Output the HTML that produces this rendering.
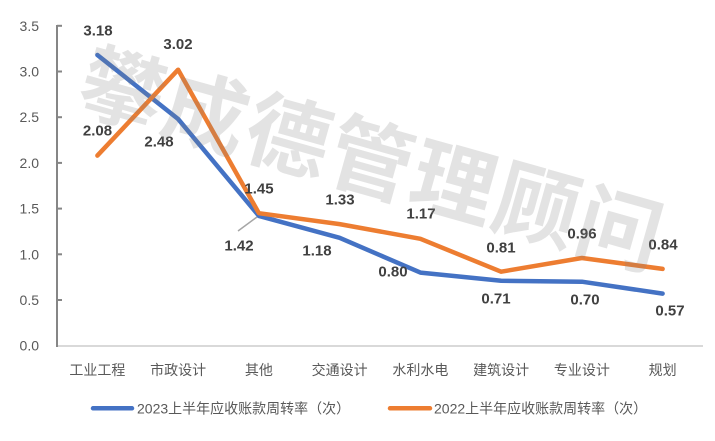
<!DOCTYPE html>
<html>
<head>
<meta charset="utf-8">
<style>
  html,body{margin:0;padding:0;background:#ffffff;}
  body{width:715px;height:441px;overflow:hidden;}
  svg{display:block;}
  .yl{font-family:"Liberation Sans","Noto Sans CJK SC",sans-serif;font-size:14px;fill:#595959;}
  .xl{font-family:"Liberation Sans","Noto Sans CJK SC",sans-serif;font-size:14px;fill:#595959;}
  .dl{font-family:"Liberation Sans","Noto Sans CJK SC",sans-serif;font-size:15px;font-weight:bold;fill:#404040;}
  .lg{font-family:"Liberation Sans","Noto Sans CJK SC",sans-serif;font-size:14px;fill:#595959;}
</style>
</head>
<body>
<svg width="715" height="441" viewBox="0 0 715 441" xmlns="http://www.w3.org/2000/svg">
  <rect width="715" height="441" fill="#ffffff"/>

  <!-- axes -->
  <line x1="57" y1="346" x2="703" y2="346" stroke="#d9d9d9" stroke-width="2"/>
  <line x1="57" y1="25" x2="57" y2="347" stroke="#868686" stroke-width="2"/>
  <g stroke="#868686" stroke-width="2">
    <line x1="57" y1="25.8" x2="62" y2="25.8"/>
    <line x1="57" y1="71.5" x2="62" y2="71.5"/>
    <line x1="57" y1="117.2" x2="62" y2="117.2"/>
    <line x1="57" y1="162.9" x2="62" y2="162.9"/>
    <line x1="57" y1="208.6" x2="62" y2="208.6"/>
    <line x1="57" y1="254.3" x2="62" y2="254.3"/>
    <line x1="57" y1="300" x2="62" y2="300"/>
  </g>

  <!-- y labels -->
  <g class="yl" text-anchor="end" dominant-baseline="central">
    <text x="39" y="25.8">3.5</text>
    <text x="39" y="71.5">3.0</text>
    <text x="39" y="117.2">2.5</text>
    <text x="39" y="162.9">2.0</text>
    <text x="39" y="208.6">1.5</text>
    <text x="39" y="254.3">1.0</text>
    <text x="39" y="300">0.5</text>
    <text x="39" y="345.7">0.0</text>
  </g>

  <!-- x labels -->
  <g class="xl" text-anchor="middle" dominant-baseline="central">
    <text x="97.4" y="370">工业工程</text>
    <text x="178.1" y="370">市政设计</text>
    <text x="258.9" y="370">其他</text>
    <text x="339.6" y="370">交通设计</text>
    <text x="420.4" y="370">水利水电</text>
    <text x="501.1" y="370">建筑设计</text>
    <text x="581.9" y="370">专业设计</text>
    <text x="662.6" y="370">规划</text>
  </g>

  <!-- series -->
  <polyline fill="none" stroke="#4472C4" stroke-width="4.5" stroke-linejoin="round" stroke-linecap="round"
    points="97.4,55.0 178.1,119.0 258.9,215.9 339.6,237.8 420.4,272.6 501.1,280.8 581.9,281.7 662.6,293.6"/>
  <polyline fill="none" stroke="#ED7D31" stroke-width="4.5" stroke-linejoin="round" stroke-linecap="round"
    points="97.4,155.6 178.1,69.7 258.9,213.2 339.6,224.1 420.4,238.8 501.1,271.7 581.9,258.0 662.6,268.9"/>

  <!-- leader line -->
  <line x1="238" y1="231" x2="257" y2="217" stroke="#a6a6a6" stroke-width="1.5"/>

  <!-- data labels -->
  <g class="dl" text-anchor="middle" dominant-baseline="central">
    <text x="98" y="31">3.18</text>
    <text x="159" y="142">2.48</text>
    <text x="239" y="246">1.42</text>
    <text x="317" y="251">1.18</text>
    <text x="393" y="272">0.80</text>
    <text x="496" y="299">0.71</text>
    <text x="585" y="300">0.70</text>
    <text x="670" y="311">0.57</text>

    <text x="97.5" y="131">2.08</text>
    <text x="178" y="44.5">3.02</text>
    <text x="259" y="189">1.45</text>
    <text x="340" y="200">1.33</text>
    <text x="421" y="214">1.17</text>
    <text x="501" y="248">0.81</text>
    <text x="582" y="234">0.96</text>
    <text x="663" y="245">0.84</text>
  </g>

  <!-- watermark -->
  <text x="373.5" y="155" text-anchor="middle" dominant-baseline="central"
    transform="rotate(15.7 373.5 155)"
    font-family="'Noto Sans CJK SC','WenQuanYi Zen Hei',sans-serif" font-weight="bold"
    font-size="84" letter-spacing="2" fill="#808080" fill-opacity="0.22">攀成德管理顾问</text>

  <!-- legend -->
  <line x1="93" y1="408.3" x2="132" y2="408.3" stroke="#4472C4" stroke-width="4.5" stroke-linecap="round"/>
  <text class="lg" x="137" y="408.3" dominant-baseline="central">2023上半年应收账款周转率（次）</text>
  <line x1="390" y1="408.3" x2="430" y2="408.3" stroke="#ED7D31" stroke-width="4.5" stroke-linecap="round"/>
  <text class="lg" x="434" y="408.3" dominant-baseline="central">2022上半年应收账款周转率（次）</text>
</svg>
</body>
</html>
